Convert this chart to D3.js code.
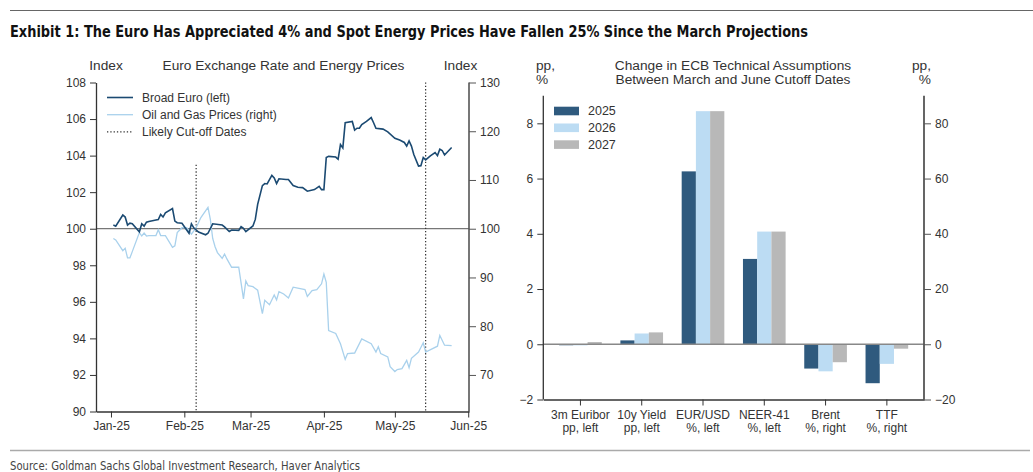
<!DOCTYPE html>
<html>
<head>
<meta charset="utf-8">
<script src="https://cdn.jsdelivr.net/npm/d3@7"></script>
<style>
  body { margin: 0; background: #fff; }
  svg text { font-family: "Liberation Sans", Arial, sans-serif; fill: #333; }
  .cond { font-family: "Liberation Sans Narrow", "DejaVu Sans Condensed", sans-serif; }
  .hdr { font-size: 13.7px; }
</style>
</head>
<body>
<svg id="chart" width="1033" height="472"></svg>
<script>
// ---- Left panel: Broad Euro (left axis) and Oil & Gas prices (right axis)
const euroSeries = [
  ["2025-01-02",100.2],["2025-01-03",100.14],["2025-01-06",100.75],["2025-01-07",100.64],
  ["2025-01-08",100.2],["2025-01-09",100.3],["2025-01-10",100.27],["2025-01-13",99.83],
  ["2025-01-14",100.27],["2025-01-15",100.14],["2025-01-16",100.36],["2025-01-17",100.4],
  ["2025-01-20",100.48],["2025-01-21",100.5],["2025-01-22",100.78],["2025-01-23",100.64],
  ["2025-01-24",100.87],["2025-01-27",101.1],["2025-01-28",100.42],["2025-01-29",100.33],
  ["2025-01-31",100.3],["2025-02-03",99.75],["2025-02-04",100.27],["2025-02-05",100.05],
  ["2025-02-07",99.82],["2025-02-10",99.67],["2025-02-11",99.75],["2025-02-13",100.27],
  ["2025-02-17",100.2],["2025-02-18",100.1],["2025-02-20",99.85],["2025-02-21",99.93],
  ["2025-02-24",99.91],["2025-02-25",100.11],["2025-02-26",100.02],["2025-02-27",99.84],
  ["2025-03-02",100.15],["2025-03-03",100.51],["2025-03-04",101.33],["2025-03-06",102.36],
  ["2025-03-07",102.47],["2025-03-08",102.45],["2025-03-10",102.92],["2025-03-11",102.78],
  ["2025-03-12",102.47],["2025-03-13",102.73],["2025-03-16",102.69],["2025-03-17",102.69],
  ["2025-03-19",102.36],["2025-03-21",102.27],["2025-03-23",102.25],["2025-03-25",102.05],
  ["2025-03-28",102.14],["2025-03-30",102.32],["2025-03-31",102.14],["2025-04-01",102.14],
  ["2025-04-02",103.9],["2025-04-03",103.96],["2025-04-06",103.92],["2025-04-07",103.8],
  ["2025-04-08",104.6],["2025-04-09",104.42],["2025-04-10",105.8],["2025-04-13",105.87],
  ["2025-04-14",105.4],["2025-04-15",105.5],["2025-04-16",105.5],["2025-04-17",105.7],
  ["2025-04-19",105.87],["2025-04-21",106.08],["2025-04-22",105.8],["2025-04-23",105.5],
  ["2025-04-26",105.45],["2025-04-28",105.3],["2025-05-01",104.95],["2025-05-03",104.85],
  ["2025-05-05",104.72],["2025-05-06",104.52],["2025-05-07",104.8],["2025-05-08",104.52],
  ["2025-05-09",104.06],["2025-05-11",103.43],["2025-05-12",103.45],["2025-05-13",103.9],
  ["2025-05-14",103.77],["2025-05-16",103.99],["2025-05-18",104.17],["2025-05-19",104.0],
  ["2025-05-20",104.35],["2025-05-21",104.28],["2025-05-22",104.04],["2025-05-23",104.17],
  ["2025-05-25",104.44]
];

const oilSeries = [
  ["2025-01-02",98.0],["2025-01-03",97.7],["2025-01-06",95.5],["2025-01-07",96.0],
  ["2025-01-08",94.0],["2025-01-09",94.0],["2025-01-10",95.3],["2025-01-13",99.2],
  ["2025-01-14",98.5],["2025-01-15",99.1],["2025-01-16",98.5],["2025-01-17",98.6],
  ["2025-01-20",98.6],["2025-01-21",99.8],["2025-01-22",98.6],["2025-01-24",98.6],
  ["2025-01-27",96.2],["2025-01-28",96.5],["2025-01-29",99.2],["2025-01-31",100.2],
  ["2025-02-02",100.2],["2025-02-04",98.9],["2025-02-06",100.2],["2025-02-08",102.3],
  ["2025-02-11",104.4],["2025-02-12",101.9],["2025-02-13",98.0],["2025-02-14",96.3],
  ["2025-02-15",95.1],["2025-02-17",93.9],["2025-02-18",94.8],["2025-02-19",93.8],
  ["2025-02-21",92.1],["2025-02-24",92.1],["2025-02-26",85.6],["2025-02-27",89.3],
  ["2025-02-28",88.3],["2025-03-02",88.1],["2025-03-04",87.4],["2025-03-06",82.6],
  ["2025-03-07",85.3],["2025-03-09",84.4],["2025-03-11",86.4],["2025-03-12",85.4],
  ["2025-03-13",87.1],["2025-03-15",86.6],["2025-03-17",85.8],["2025-03-19",88.0],
  ["2025-03-22",87.7],["2025-03-24",87.5],["2025-03-25",86.1],["2025-03-27",87.3],
  ["2025-03-29",87.5],["2025-03-31",88.7],["2025-04-01",90.7],["2025-04-02",89.0],
  ["2025-04-03",79.1],["2025-04-06",78.5],["2025-04-08",76.4],["2025-04-10",73.2],
  ["2025-04-11",74.4],["2025-04-14",74.5],["2025-04-17",77.4],["2025-04-21",76.4],
  ["2025-04-23",74.7],["2025-04-24",75.8],["2025-04-25",74.4],["2025-04-28",73.7],
  ["2025-04-29",71.7],["2025-05-01",70.7],["2025-05-02",71.1],["2025-05-04",71.3],
  ["2025-05-06",73.0],["2025-05-07",71.5],["2025-05-08",73.4],["2025-05-11",74.7],
  ["2025-05-13",76.6],["2025-05-14",74.7],["2025-05-19",75.9],["2025-05-20",78.1],
  ["2025-05-22",76.1],["2025-05-25",76.0]
];

const cutoffDates = ["2025-02-06", "2025-05-14"];
const cutoffTops = [103.5, 108];          // left-axis value where each dotted line starts
const leftTicks = [90, 92, 94, 96, 98, 100, 102, 104, 106, 108];
const rightTicks = [70, 80, 90, 100, 110, 120, 130];
const lineLegend = ["Broad Euro (left)", "Oil and Gas Prices (right)", "Likely Cut-off Dates"];

// ---- Right panel: change in ECB technical assumptions
const categories = ["3m Euribor|pp, left", "10y Yield|pp, left", "EUR/USD|%, left",
                    "NEER-41|%, left", "Brent|%, right", "TTF|%, right"];
const axisSide = ["left", "left", "left", "left", "right", "right"];
const years = ["2025", "2026", "2027"];
const values2025 = [-0.03, 0.14, 6.26, 3.09, -8.8, -14.1];
const values2026 = [-0.04, 0.39, 8.44, 4.08, -9.8, -7.1];
const values2027 = [0.08, 0.43, 8.44, 4.08, -6.5, -1.6];
const barLeftTicks = [-2, 0, 2, 4, 6, 8];
const barRightTicks = [-20, 0, 20, 40, 60, 80];

const parse = d3.timeParse("%Y-%m-%d");
const svg = d3.select("#chart");

// ---- page furniture
svg.append("line").attr("x1", 10).attr("x2", 1033).attr("y1", 10.5).attr("y2", 10.5)
  .attr("stroke", "#666").attr("stroke-width", 1);
svg.append("text").attr("class", "cond").attr("x", 10).attr("y", 36.5)
  .attr("textLength", 798).attr("lengthAdjust", "spacingAndGlyphs")
  .style("font-size", "16.5px").style("font-weight", "bold").style("fill", "#111")
  .text("Exhibit 1: The Euro Has Appreciated 4% and Spot Energy Prices Have Fallen 25% Since the March Projections");
svg.append("line").attr("x1", 10).attr("x2", 1030).attr("y1", 450.5).attr("y2", 450.5)
  .attr("stroke", "#aaa").attr("stroke-width", 1.5);
svg.append("text").attr("class", "cond").attr("x", 10).attr("y", 469.5)
  .attr("textLength", 350).attr("lengthAdjust", "spacingAndGlyphs")
  .style("font-size", "12.5px").style("fill", "#444")
  .text("Source: Goldman Sachs Global Investment Research, Haver Analytics");

// ================= Left panel =================
const L = { left: 96, right: 469, top: 82.5, bottom: 411.5 };
const euro = euroSeries.map(d => ({ date: parse(d[0]), value: d[1] }));
const oil = oilSeries.map(d => ({ date: parse(d[0]), value: d[1] }));

const x = d3.scaleTime()
  .domain([new Date(2024, 11, 25, 16), new Date(2025, 5, 1, 8)])
  .range([L.left, L.right]);
const yL = d3.scaleLinear().domain([90, 108]).range([L.bottom, L.top]);
const yR = d3.scaleLinear().domain([62.5, 130]).range([L.bottom, L.top]);

const left = svg.append("g");

// 100 reference line
left.append("line")
  .attr("x1", L.left).attr("x2", L.right).attr("y1", yL(100)).attr("y2", yL(100))
  .attr("stroke", "#777").attr("stroke-width", 1.3);

// cut-off dates
cutoffDates.forEach((d, i) => {
  left.append("line")
    .attr("x1", x(parse(d))).attr("x2", x(parse(d)))
    .attr("y1", yL(cutoffTops[i])).attr("y2", L.bottom)
    .attr("stroke", "#333").attr("stroke-width", 1.2).attr("stroke-dasharray", "1.3,2");
});

left.append("path").datum(oil)
  .attr("fill", "none").attr("stroke", "#a9d1ec").attr("stroke-width", 1.3)
  .attr("d", d3.line().x(d => x(d.date)).y(d => yR(d.value)));
left.append("path").datum(euro)
  .attr("fill", "none").attr("stroke", "#1b4a72").attr("stroke-width", 1.6)
  .attr("d", d3.line().x(d => x(d.date)).y(d => yL(d.value)));

// axes
const axL = left.append("g").attr("transform", `translate(${L.left},0)`)
  .call(d3.axisLeft(yL).tickValues(leftTicks).tickSize(6).tickSizeOuter(0).tickPadding(4));
const axR = left.append("g").attr("transform", `translate(${L.right},0)`)
  .call(d3.axisRight(yR).tickValues(rightTicks).tickSize(7).tickSizeOuter(0).tickPadding(4));
const axB = left.append("g").attr("transform", `translate(0,${L.bottom})`)
  .call(d3.axisBottom(x).ticks(d3.timeMonth.every(1)).tickFormat(d3.timeFormat("%b-%y"))
    .tickSize(6).tickSizeOuter(0).tickPadding(4));
axR.select(".domain").attr("d", `M0,${L.top}V${L.bottom}`);
[axL, axR, axB].forEach(a => {
  a.selectAll("text").style("font-size", "12px").style("fill", "#333")
    .style("font-family", '"Liberation Sans", Arial, sans-serif');
  a.selectAll("line").attr("stroke", "#333");
  a.select(".domain").attr("stroke", "#333").attr("stroke-width", 1.3);
});
axR.selectAll("line").attr("stroke", "#555");
axR.select(".domain").attr("stroke", "#555").attr("stroke-width", 1.6);

// headers
left.append("text").attr("class", "hdr").attr("x", 106).attr("y", 70)
  .attr("text-anchor", "middle").text("Index");
left.append("text").attr("class", "hdr").attr("x", 283.5).attr("y", 70)
  .attr("text-anchor", "middle").text("Euro Exchange Rate and Energy Prices");
left.append("text").attr("class", "hdr").attr("x", 460.5).attr("y", 70)
  .attr("text-anchor", "middle").text("Index");

// legend
const lg = left.append("g");
lineLegend.forEach((name, i) => {
  const yy = 97.5 + i * 17.2;
  const ln = lg.append("line").attr("x1", 107).attr("x2", 133).attr("y1", yy).attr("y2", yy);
  if (i === 0) ln.attr("stroke", "#1b4a72").attr("stroke-width", 1.6);
  if (i === 1) ln.attr("stroke", "#a9d1ec").attr("stroke-width", 1.3);
  if (i === 2) ln.attr("stroke", "#333").attr("stroke-width", 1.2).attr("stroke-dasharray", "1.3,2");
  lg.append("text").attr("x", 142).attr("y", yy + 4.3).style("font-size", "12px").text(name);
});

// ================= Right panel =================
const B = { left: 543.3, right: 924, top: 95.7, bottom: 399.5 };
const yBL = d3.scaleLinear().domain([-2, 9]).range([B.bottom, B.top]);
const yBR = d3.scaleLinear().domain([-20, 90]).range([B.bottom, B.top]);
const x0 = d3.scaleBand().domain(categories).range([B.left, B.right])
  .paddingInner(0).paddingOuter(0.106);
const x1 = d3.scaleBand().domain(years)
  .range([x0.bandwidth() * 0.152, x0.bandwidth() * 0.848]).padding(0);
const colors = { "2025": "#2f5a7e", "2026": "#bcdcf3", "2027": "#b8b8b8" };

const right = svg.append("g");

const bars = [];
categories.forEach((c, i) => {
  const scale = axisSide[i] === "left" ? yBL : yBR;
  [values2025[i], values2026[i], values2027[i]].forEach((v, j) => {
    bars.push({ cat: c, year: years[j], value: v, scale: scale });
  });
});

right.selectAll("rect.bar").data(bars).join("rect")
  .attr("class", "bar")
  .attr("x", d => x0(d.cat) + x1(d.year))
  .attr("width", x1.bandwidth())
  .attr("y", d => Math.min(d.scale(d.value), d.scale(0)))
  .attr("height", d => Math.max(Math.abs(d.scale(d.value) - d.scale(0)), 1))
  .attr("fill", d => colors[d.year]);

// zero line
right.append("line")
  .attr("x1", B.left).attr("x2", B.right).attr("y1", yBL(0)).attr("y2", yBL(0))
  .attr("stroke", "#888").attr("stroke-width", 1.3);

const bL = right.append("g").attr("transform", `translate(${B.left},0)`)
  .call(d3.axisLeft(yBL).tickValues(barLeftTicks).tickSize(6).tickSizeOuter(0).tickPadding(4));
bL.select(".domain").attr("d", `M0,${B.top}V${B.bottom}`);
const bR = right.append("g").attr("transform", `translate(${B.right},0)`)
  .call(d3.axisRight(yBR).tickValues(barRightTicks).tickSize(7).tickSizeOuter(0).tickPadding(4));
bR.select(".domain").attr("d", `M0,${B.top}V${B.bottom}`);
const bB = right.append("g").attr("transform", `translate(0,${B.bottom})`)
  .call(d3.axisBottom(x0).tickSize(6).tickSizeOuter(0).tickFormat(""));
[bL, bR, bB].forEach(a => {
  a.selectAll("text").style("font-size", "12px").style("fill", "#333")
    .style("font-family", '"Liberation Sans", Arial, sans-serif');
  a.selectAll("line").attr("stroke", "#333");
  a.select(".domain").attr("stroke", "#333").attr("stroke-width", 1.3);
});
bR.selectAll("line").attr("stroke", "#555");
bR.select(".domain").attr("stroke", "#555").attr("stroke-width", 1.8);

// category labels (two lines)
categories.forEach(c => {
  const parts = c.split("|");
  const t = right.append("text").attr("text-anchor", "middle").style("font-size", "12px");
  parts.forEach((p, k) => {
    t.append("tspan").attr("x", x0(c) + x0.bandwidth() / 2).attr("y", 419 + k * 12.8).text(p);
  });
});

// headers
right.append("text").attr("class", "hdr").attr("x", 536).attr("y", 69.5).text("pp,");
right.append("text").attr("class", "hdr").attr("x", 536).attr("y", 84).text("%");
right.append("text").attr("class", "hdr").attr("x", 931).attr("y", 69.5).attr("text-anchor", "end").text("pp,");
right.append("text").attr("class", "hdr").attr("x", 931).attr("y", 84).attr("text-anchor", "end").text("%");
right.append("text").attr("class", "hdr").attr("x", 733).attr("y", 69.5).attr("text-anchor", "middle")
  .text("Change in ECB Technical Assumptions");
right.append("text").attr("class", "hdr").attr("x", 733).attr("y", 84).attr("text-anchor", "middle")
  .text("Between March and June Cutoff Dates");

// legend
years.forEach((yr, i) => {
  const yy = 111 + i * 16.8;
  right.append("rect").attr("x", 554).attr("y", yy - 4.3).attr("width", 25).attr("height", 8.6)
    .attr("fill", colors[yr]);
  right.append("text").attr("x", 588).attr("y", yy + 4.3).style("font-size", "12.5px").text(yr);
});
</script>
</body>
</html>
